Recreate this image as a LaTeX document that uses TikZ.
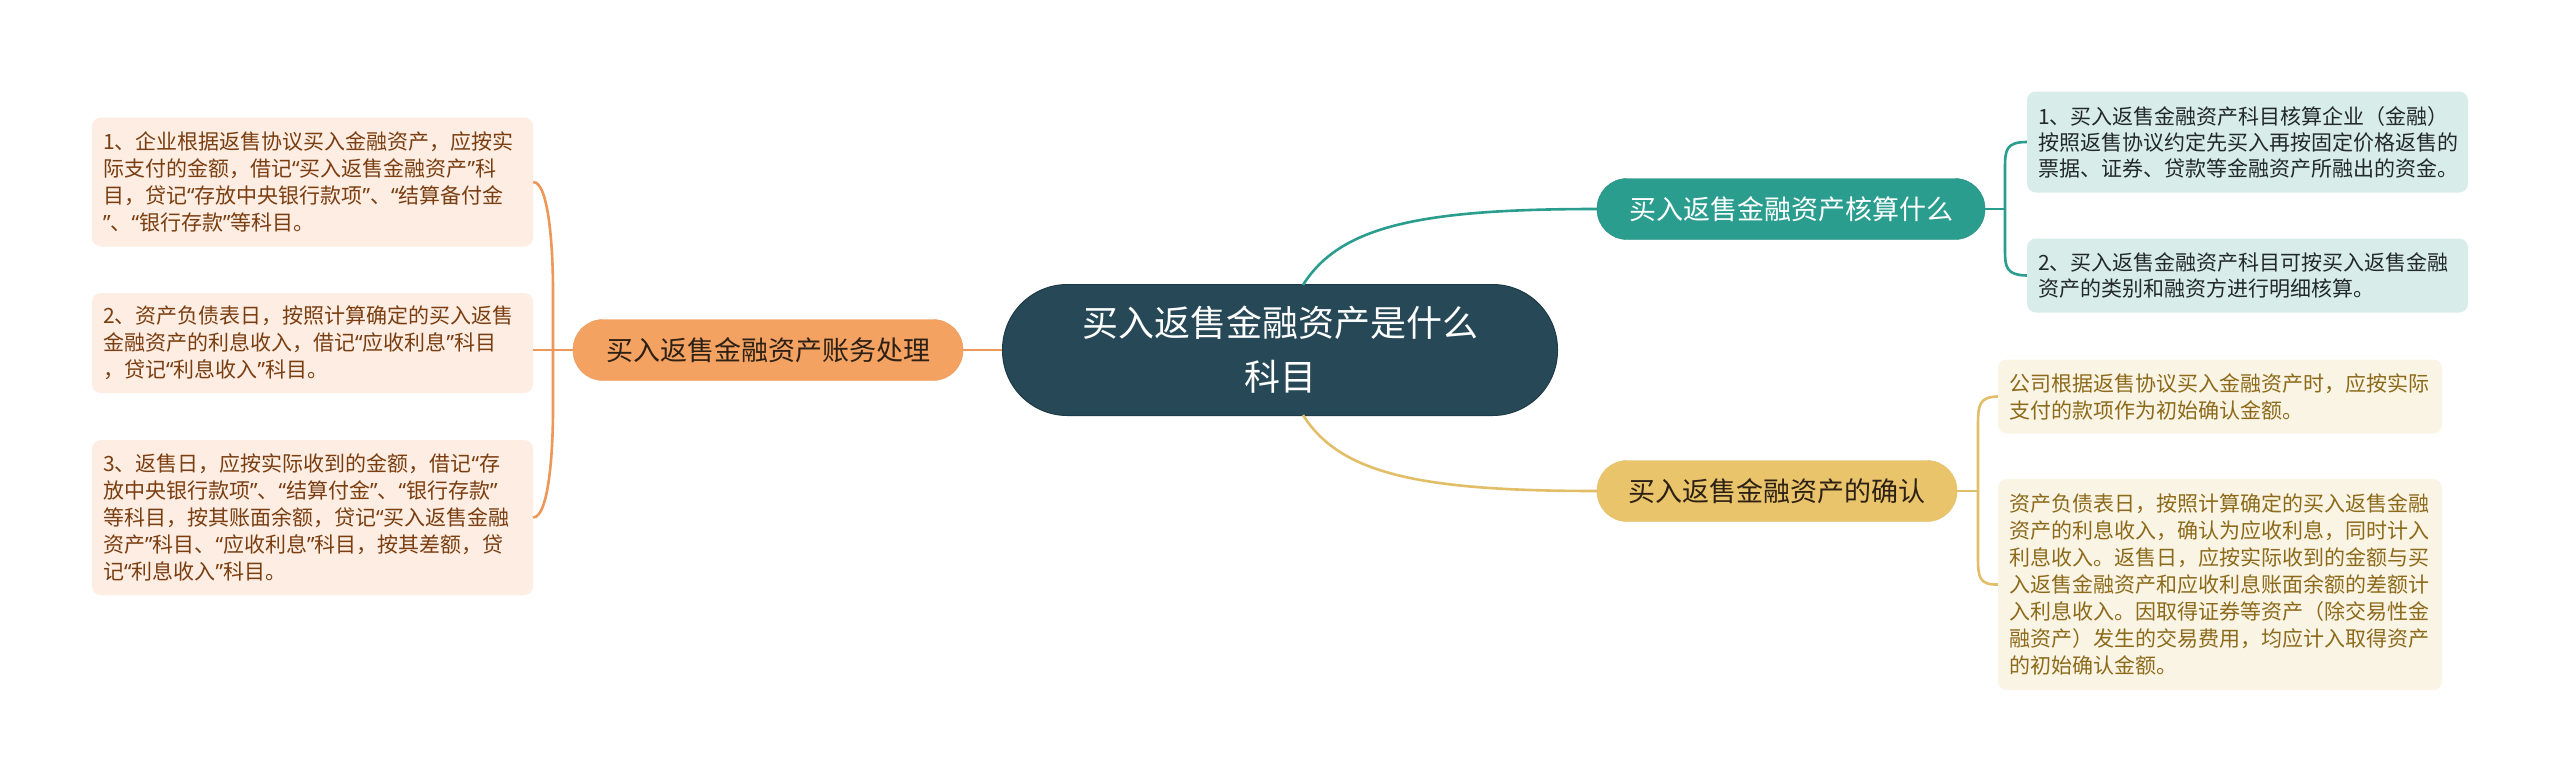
\documentclass[tikz,border=0pt]{standalone}
\usepackage{fontspec}
\setmainfont{Noto Sans CJK SC}
\newfontfamily\latinq{Noto Sans}
\newcommand{\myoq}{{\latinq “}}
\newcommand{\mycq}{{\latinq ”}}
\definecolor{cdark}{RGB}{39,72,86}
\definecolor{cdarkb}{RGB}{30,58,70}
\definecolor{cteal}{RGB}{42,157,143}
\definecolor{ctealb}{RGB}{34,140,127}
\definecolor{corange}{RGB}{244,162,97}
\definecolor{corangel}{RGB}{236,152,90}
\definecolor{cgold}{RGB}{233,196,106}
\definecolor{cgoldl}{RGB}{226,190,105}
\definecolor{lpeach}{RGB}{253,237,227}
\definecolor{lteal}{RGB}{216,236,233}
\definecolor{lcream}{RGB}{250,244,229}
\definecolor{tbrown}{RGB}{122,62,16}
\definecolor{tgold}{RGB}{140,106,26}
\definecolor{tdark}{RGB}{34,40,44}
\definecolor{tbranch}{RGB}{45,32,20}
\tikzset{
  rootbox/.style={fill=cdark,draw=cdarkb,line width=1pt,rounded corners=65pt,minimum width=555pt,minimum height=131pt,inner sep=0pt,align=center,text=white,font=\fontsize{36}{54}\selectfont},
  branchbox/.style={rounded corners=30pt,minimum height=61pt,inner sep=0pt,font=\fontsize{27}{32}\selectfont},
  leafbox/.style={rounded corners=9pt,inner xsep=11pt,inner ysep=0pt,align=left,font=\fontsize{21}{27}\selectfont},
  oline/.style={draw=corangel,line width=2.6pt},
  tline/.style={draw=cteal,line width=2.6pt},
  gline/.style={draw=cgoldl,line width=2.6pt},
}
\begin{document}
\begin{tikzpicture}[x=1pt,y=-1pt]
\useasboundingbox[fill=white] (0,0) rectangle (2560,782);

% root
\node[rootbox] (root) at (1280,350) {买入返售金融资产是什么\\科目};

% branches
\node[branchbox,fill=corange,draw=corangel,minimum width=390pt,text=tbranch] (bl) at (768,350) {买入返售金融资产账务处理};
\node[branchbox,fill=cteal,draw=ctealb,minimum width=388pt,text=white] (bt) at (1791,209) {买入返售金融资产核算什么};
\node[branchbox,fill=cgold,draw=cgoldl,minimum width=360pt,text=tbranch] (bg) at (1777,491) {买入返售金融资产的确认};

% left leaves
\node[leafbox,fill=lpeach,text=tbrown,text width=419pt,minimum height=129pt] (l1) at (312.5,182) {1、企业根据返售协议买入金融资产，应按实\\际支付的金额，借记\myoq 买入返售金融资产\mycq 科\\目，贷记\myoq 存放中央银行款项\mycq 、\myoq 结算备付金\\\mycq 、\myoq 银行存款\mycq 等科目。};
\node[leafbox,fill=lpeach,text=tbrown,text width=419pt,minimum height=100pt] (l2) at (312.5,343) {2、资产负债表日，按照计算确定的买入返售\\金融资产的利息收入，借记\myoq 应收利息\mycq 科目\\，贷记\myoq 利息收入\mycq 科目。};
\node[leafbox,fill=lpeach,text=tbrown,text width=419pt,minimum height=155pt] (l3) at (312.5,517.5) {3、返售日，应按实际收到的金额，借记\myoq 存\\放中央银行款项\mycq 、\myoq 结算付金\mycq 、\myoq 银行存款\mycq\\等科目，按其账面余额，贷记\myoq 买入返售金融\\资产\mycq 科目、\myoq 应收利息\mycq 科目，按其差额，贷\\记\myoq 利息收入\mycq 科目。};

% right teal leaves
\node[leafbox,fill=lteal,text=tdark,text width=419pt,minimum height=101pt,font=\fontsize{21}{26}\selectfont] (t1) at (2247.5,142) {1、买入返售金融资产科目核算企业（金融）\\按照返售协议约定先买入再按固定价格返售的\\票据、证券、贷款等金融资产所融出的资金。};
\node[leafbox,fill=lteal,text=tdark,text width=419pt,minimum height=74pt,font=\fontsize{21}{26}\selectfont] (t2) at (2247.5,275.5) {2、买入返售金融资产科目可按买入返售金融\\资产的类别和融资方进行明细核算。};

% right cream leaves
\node[leafbox,fill=lcream,text=tgold,text width=422pt,minimum height=74pt] (g1) at (2220,396.5) {公司根据返售协议买入金融资产时，应按实际\\支付的款项作为初始确认金额。};
\node[leafbox,fill=lcream,text=tgold,text width=422pt,minimum height=211pt] (g2) at (2220,584.5) {资产负债表日，按照计算确定的买入返售金融\\资产的利息收入，确认为应收利息，同时计入\\利息收入。返售日，应按实际收到的金额与买\\入返售金融资产和应收利息账面余额的差额计\\入利息收入。因取得证券等资产（除交易性金\\融资产）发生的交易费用，均应计入取得资产\\的初始确认金额。};

% junctions
\coordinate (jl) at (553,350);
\coordinate (jt) at (2005,209);
\coordinate (jg) at (1978,491);

% root to branches
\draw[oline] (root.west) -- (bl.east);
\draw[tline] (1303,285) .. controls (1340,226) and (1420,209) .. (bt.west);
\draw[gline] (1303,415) .. controls (1340,474) and (1420,491) .. (bg.west);

% left connectors
\draw[oline] (bl.west) -- (jl);
\draw[oline] (l1.east) .. controls (549,182) and (553,250) .. (553,290) -- (jl);
\draw[oline] (jl) -- (l2.east |- jl);
\draw[oline] (l3.east) .. controls (549,517) and (553,450) .. (553,410) -- (jl);

% teal connectors
\draw[tline] (bt.east) -- (jt);
\draw[tline] (t1.west) .. controls (2006,142) and (2005,150) .. (2005,168) -- (jt);
\draw[tline] (t2.west) .. controls (2006,275) and (2005,267) .. (2005,250) -- (jt);

% gold connectors
\draw[gline] (bg.east) -- (jg);
\draw[gline] (g1.west) .. controls (1979,397) and (1978,405) .. (1978,425) -- (jg);
\draw[gline] (g2.west) .. controls (1979,585) and (1978,577) .. (1978,557) -- (jg);
\end{tikzpicture}
\end{document}
